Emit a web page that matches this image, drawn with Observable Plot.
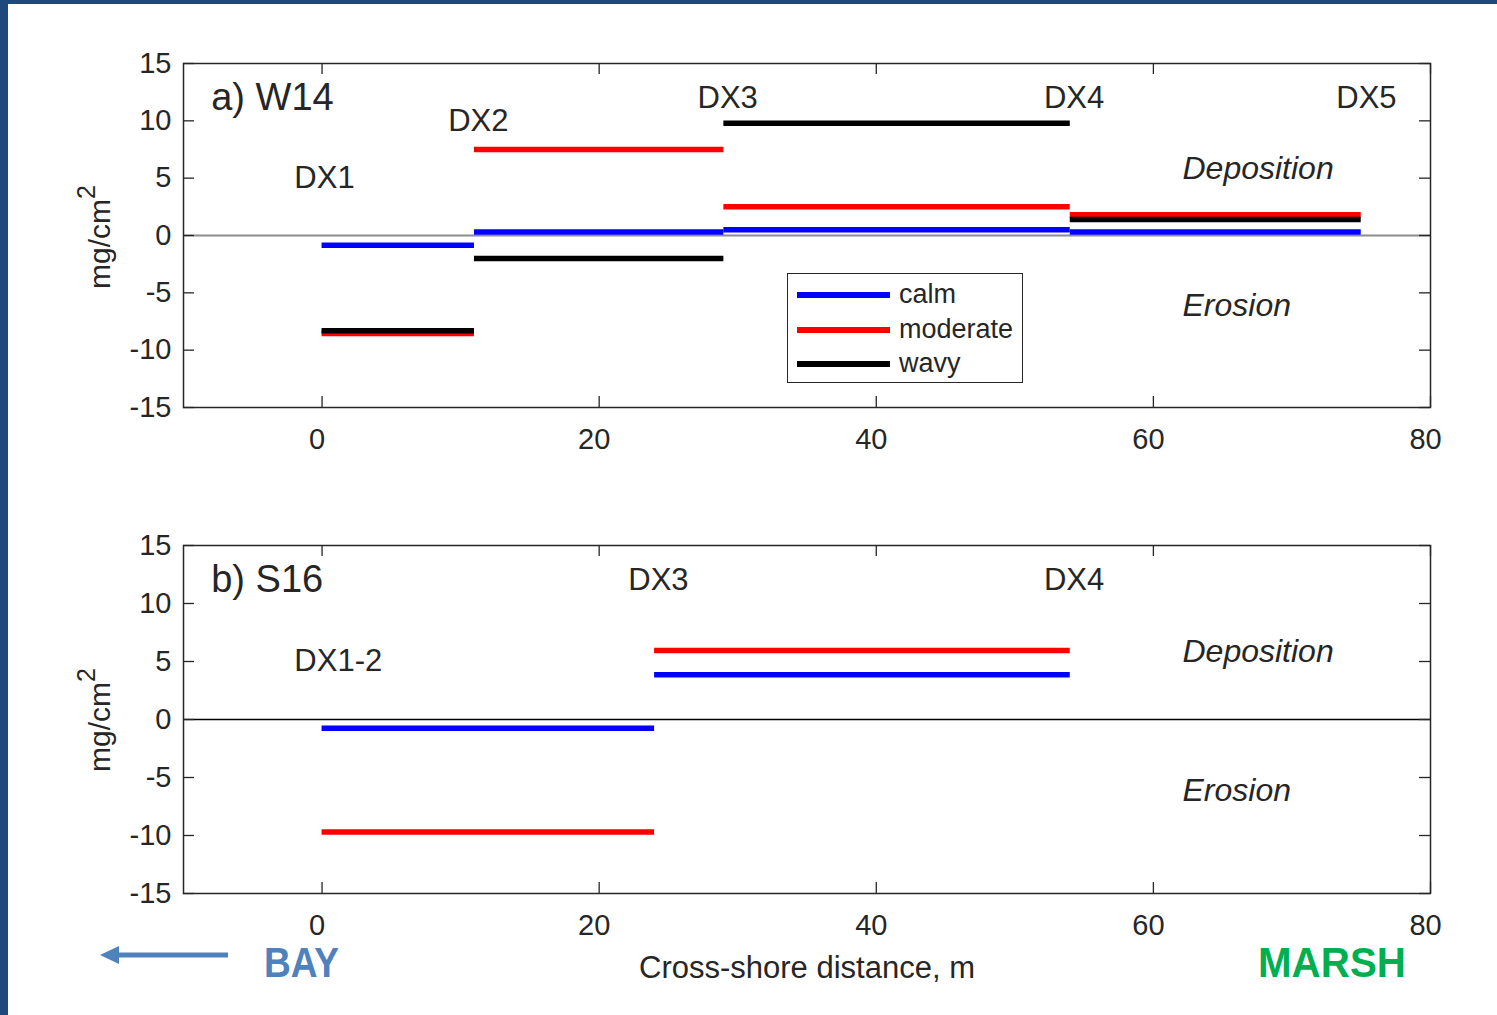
<!DOCTYPE html>
<html><head><meta charset="utf-8">
<script src="https://cdn.jsdelivr.net/npm/d3@7"></script>
<script src="https://cdn.jsdelivr.net/npm/@observablehq/plot@0.6"></script>
<style>
html,body{margin:0;padding:0;background:#fff;}
#page{position:relative;width:1497px;height:1015px;background:#fff;overflow:hidden;font-family:"Liberation Sans",Arial,sans-serif;color:#262626;}
#bordL{position:absolute;left:0;top:0;width:8px;height:1015px;background:#1f497d;}
#bordT{position:absolute;left:0;top:0;width:1497px;height:4px;background:#1f497d;}
.panel{position:absolute;left:0;}
.ylab{position:absolute;font-size:30px;transform:translate(-50%,-50%) rotate(-90deg);white-space:nowrap;}
.ylab sup{font-size:25px;vertical-align:0.6em;line-height:0;}
#xlab{position:absolute;left:807px;top:968px;transform:translate(-50%,-50%);font-size:31px;white-space:nowrap;}
#legend{position:absolute;left:787px;top:273px;width:234px;height:108px;border:1.5px solid #262626;background:#fff;}
.li{position:absolute;left:9px;height:0;}
.li span.sw{position:absolute;left:0;top:-3px;width:93px;height:6px;}
.li span.tx{position:absolute;left:102px;top:-17px;font-size:27px;line-height:32px;white-space:nowrap;}
#deco{position:absolute;left:0;top:0;}
</style>
</head><body>
<div id="page">
  <div id="bordL"></div><div id="bordT"></div>
</div>
<script>
// ---------- data ----------
const conditions = ["calm", "moderate", "wavy"];
const conditionColors = ["#0000ff", "#ff0000", "#000000"];

const xTicks = [0, 20, 40, 60, 80];
const yTicks = [-15, -10, -5, 0, 5, 10, 15];

// Panel a) W14 : segments between instruments
const w14Start = [0, 11, 29, 54];
const w14End = [11, 29, 54, 75];
const w14Calm = [-0.85, 0.3, 0.5, 0.3];
const w14Moderate = [-8.55, 7.5, 2.5, 1.8];
const w14Wavy = [-8.3, -2.0, 9.8, 1.4];
const w14Stations = ["DX1", "DX2", "DX3", "DX4", "DX5"];
const w14StationX = [-2, 9.1, 27.1, 52.1, 73.2];
const w14StationY = [5, 10, 12, 12, 12];

// Panel b) S16
const s16Start = [0, 24];
const s16End = [24, 54];
const s16Calm = [-0.75, 3.85];
const s16Moderate = [-9.7, 5.95];
const s16Stations = ["DX1-2", "DX3", "DX4"];
const s16StationX = [-2, 22.1, 52.1];
const s16StationY = [5, 12, 12];

const panelTitles = ["a) W14", "b) S16"];
const regionLabels = ["Deposition", "Erosion"];
const regionX = [62.1, 62.1];
const regionY = [5.85, -6.15];

// ---------- layout ----------
const W = 1497, ML = 183, MR = 67, MT = 63, MB = 63;
const FW = W - ML - MR;
const ink = "#262626";
const font = '"Liberation Sans", Arial, sans-serif';

function makePanel({H, starts, ends, series, stations, stX, stY, title, zeroStroke, zeroWidth}) {
  const FH = H - MT - MB;
  const segs = [];
  series.forEach((vals, j) => {
    if (!vals) return;
    vals.forEach((v, i) => segs.push({x1: starts[i], x2: ends[i], y: v, cond: conditions[j]}));
  });
  const st = stations.map((s, i) => ({text: s, x: stX[i], y: stY[i]}));
  const regions = regionLabels.map((t, i) => ({text: t, x: regionX[i], y: regionY[i]}));
  return Plot.plot({
    width: W, height: H,
    marginLeft: ML, marginRight: MR, marginTop: MT, marginBottom: MB,
    style: {fontFamily: font, color: ink, background: "transparent", overflow: "visible"},
    x: {domain: [-10, 80], label: null},
    y: {domain: [-15, 15], label: null},
    color: {domain: conditions, range: conditionColors},
    marks: [
      Plot.ruleY([0], {stroke: zeroStroke, strokeWidth: zeroWidth}),
      Plot.ruleY(segs, {y: "y", x1: "x1", x2: "x2", stroke: "cond", strokeWidth: 5.5}),
      Plot.frame({stroke: ink, strokeWidth: 1.5}),
      Plot.tickX(xTicks, {x: d => d, insetTop: FH - 11, stroke: ink, strokeWidth: 1.3}),
      Plot.tickX(xTicks, {x: d => d, insetBottom: FH - 11, stroke: ink, strokeWidth: 1.3}),
      Plot.tickY(yTicks, {y: d => d, insetRight: FW - 11, stroke: ink, strokeWidth: 1.3}),
      Plot.tickY(yTicks, {y: d => d, insetLeft: FW - 11, stroke: ink, strokeWidth: 1.3}),
      Plot.axisX(xTicks, {tickSize: 0, tickPadding: 21, dx: -5, fontSize: 29, fill: ink, tickFormat: d => String(d), label: null}),
      Plot.axisY(yTicks, {tickSize: 0, tickPadding: 12, fontSize: 29, fill: ink, tickFormat: d => String(d), label: null}),
      Plot.text([title], {x: -8, y: 12, text: d => d, textAnchor: "start", fontSize: 38, fill: ink}),
      Plot.text(st, {x: "x", y: "y", text: "text", textAnchor: "start", fontSize: 31, fill: ink}),
      Plot.text(regions, {x: "x", y: "y", text: "text", textAnchor: "start", fontSize: 32, fontStyle: "italic", fill: ink})
    ]
  });
}

const page = document.getElementById("page");

const pa = makePanel({H: 470, starts: w14Start, ends: w14End, series: [w14Calm, w14Moderate, w14Wavy],
  stations: w14Stations, stX: w14StationX, stY: w14StationY, title: panelTitles[0], zeroStroke: "#8c8c8c", zeroWidth: 2});
pa.classList.add("panel"); pa.style.top = "0px";
page.appendChild(pa);

const pb = makePanel({H: 474, starts: s16Start, ends: s16End, series: [s16Calm, s16Moderate, null],
  stations: s16Stations, stX: s16StationX, stY: s16StationY, title: panelTitles[1], zeroStroke: "#000000", zeroWidth: 1.5});
pb.classList.add("panel"); pb.style.top = "482px";
page.appendChild(pb);

// y labels
[237, 720].forEach(cy => {
  const d = document.createElement("div");
  d.className = "ylab";
  d.style.left = "100px"; d.style.top = cy + "px";
  d.innerHTML = "mg/cm<sup>2</sup>";
  page.appendChild(d);
});

// x label
const xl = document.createElement("div");
xl.id = "xlab"; xl.textContent = "Cross-shore distance, m";
page.appendChild(xl);

// legend
const lg = document.createElement("div");
lg.id = "legend";
conditions.forEach((c, i) => {
  const it = document.createElement("div");
  it.className = "li";
  it.style.top = [21, 56, 90][i] + "px";
  it.innerHTML = `<span class="sw" style="background:${conditionColors[i]}"></span><span class="tx">${c}</span>`;
  lg.appendChild(it);
});
page.appendChild(lg);

// BAY / MARSH decoration
const ns = "http://www.w3.org/2000/svg";
const deco = document.createElementNS(ns, "svg");
deco.setAttribute("id", "deco");
deco.setAttribute("width", 1497); deco.setAttribute("height", 1015);
deco.innerHTML = `
  <line x1="114" y1="955" x2="228" y2="955" stroke="#4f81bd" stroke-width="5"/>
  <polygon points="100,955 119,946 119,964" fill="#4f81bd"/>
  <text x="264" y="977" font-family='"Liberation Sans", Arial, sans-serif' font-weight="bold" font-size="42" fill="#4f81bd" textLength="75" lengthAdjust="spacingAndGlyphs">BAY</text>
  <text x="1258" y="977" font-family='"Liberation Sans", Arial, sans-serif' font-weight="bold" font-size="42" fill="#00b050" textLength="148" lengthAdjust="spacingAndGlyphs">MARSH</text>`;
page.appendChild(deco);
</script>
</body></html>
